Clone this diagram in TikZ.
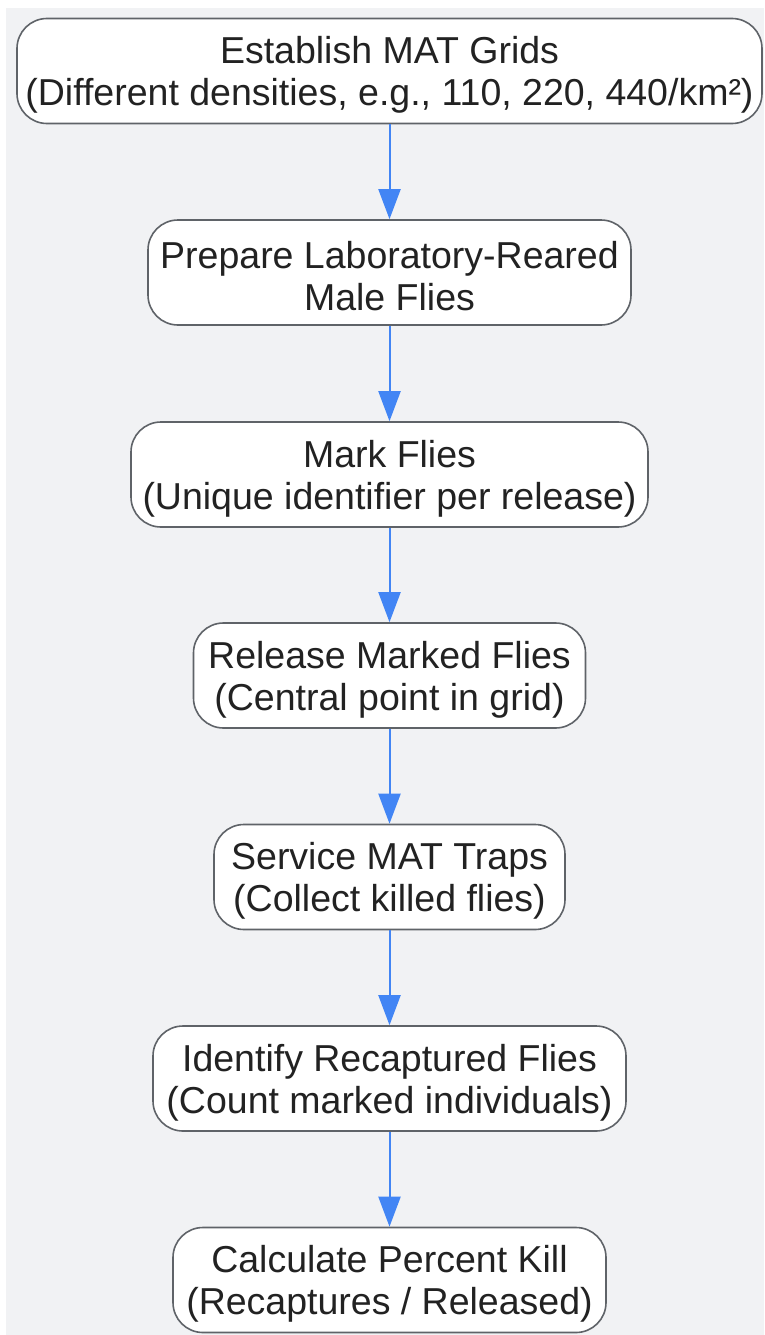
\documentclass[tikz,border=0pt]{standalone}
\usepackage{fontspec}
\setmainfont{Liberation Sans}
\usetikzlibrary{arrows.meta}
\definecolor{bgc}{HTML}{F1F2F4}
\definecolor{edgec}{HTML}{5F6368}
\definecolor{arrc}{HTML}{4285F4}
\definecolor{txtc}{HTML}{222222}
\tikzset{
  box/.style={draw=edgec, line width=1.6pt, fill=white, rounded corners=30pt,
    minimum height=105pt, inner sep=0pt},
  txt/.style={align=center, text=txtc, inner sep=0pt,
    font=\fontsize{37.5}{42}\selectfont},
  flow/.style={draw=arrc, line width=2pt, -{Triangle[width=22pt,length=30pt]}}
}
\begin{document}
\begin{tikzpicture}[x=1pt,y=-1pt]
\useasboundingbox (0,0) rectangle (764,1335);
\fill[bgc] (6,8) rectangle (764,1335);
\node[box, minimum width=745pt] (n1) at (389.5,71) {};
\node[box, minimum width=483pt] (n2) at (389.5,272.5) {};
\node[box, minimum width=517pt] (n3) at (389.5,474.5) {};
\node[box, minimum width=392pt] (n4) at (389.5,675.5) {};
\node[box, minimum width=351pt] (n5) at (389.5,877) {};
\node[box, minimum width=473pt] (n6) at (389.5,1078.5) {};
\node[box, minimum width=433pt] (n7) at (389.5,1280) {};
\node[txt] (t1) at ([yshift=-4pt]n1.center) {Establish MAT Grids\\(Different densities, e.g., 110, 220, 440/km²)};
\node[txt] (t2) at ([yshift=-4pt]n2.center) {Prepare Laboratory-Reared\\Male Flies};
\node[txt] (t3) at ([yshift=-4pt]n3.center) {Mark Flies\\(Unique identifier per release)};
\node[txt] (t4) at ([yshift=-4pt]n4.center) {Release Marked Flies\\(Central point in grid)};
\node[txt] (t5) at ([yshift=-4pt]n5.center) {Service MAT Traps\\(Collect killed flies)};
\node[txt] (t6) at ([yshift=-4pt]n6.center) {Identify Recaptured Flies\\(Count marked individuals)};
\node[txt] (t7) at ([yshift=-4pt]n7.center) {Calculate Percent Kill\\(Recaptures / Released)};
\draw[flow] (n1) -- (n2);
\draw[flow] (n2) -- (n3);
\draw[flow] (n3) -- (n4);
\draw[flow] (n4) -- (n5);
\draw[flow] (n5) -- (n6);
\draw[flow] (n6) -- (n7);
\end{tikzpicture}
\end{document}
